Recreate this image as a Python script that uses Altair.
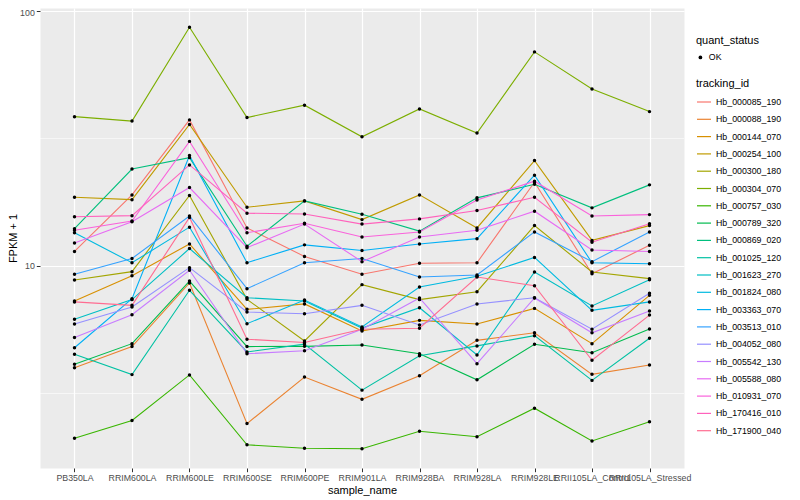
import altair as alt
import pandas as pd

samples = ["PB350LA", "RRIM600LA", "RRIM600LE", "RRIM600SE", "RRIM600PE",
           "RRIM901LA", "RRIM928BA", "RRIM928LA", "RRIM928LE",
           "RRII105LA_Control", "RRII105LA_Stressed"]

ids = ["Hb_000085_190", "Hb_000088_190", "Hb_000144_070", "Hb_000254_100",
       "Hb_000300_180", "Hb_000304_070", "Hb_000757_030", "Hb_000789_320",
       "Hb_000869_020", "Hb_001025_120", "Hb_001623_270", "Hb_001824_080",
       "Hb_003363_070", "Hb_003513_010", "Hb_004052_080", "Hb_005542_130",
       "Hb_005588_080", "Hb_010931_070", "Hb_170416_010", "Hb_171900_040"]

colors = ["#F8766D", "#EA8331", "#D89000", "#C09B00", "#A3A500", "#7CAE00",
          "#39B600", "#00BB4E", "#00BF7D", "#00C1A3", "#00BFC4", "#00BAE0",
          "#00B0F6", "#35A2FF", "#9590FF", "#C77CFF", "#E76BF3", "#FA62DB",
          "#FF62BC", "#FF6C91"]

# FPKM + 1 per tracking_id, in sample order
hb_000085_190 = [11.4, 19.0, 37.4, 14.1, 10.9, 9.28, 10.25, 10.3, 21.3, 9.33, 12.05]
hb_000088_190 = [3.99, 4.83, 8.58, 2.41, 3.67, 3.00, 3.71, 5.11, 5.47, 3.76, 4.09]
hb_000144_070 = [7.29, 9.16, 12.2, 6.76, 7.10, 5.56, 6.12, 5.92, 6.82, 4.96, 7.67]
hb_000254_100 = [18.6, 18.2, 35.9, 17.0, 18.0, 15.2, 19.0, 14.1, 25.9, 12.6, 14.4]
hb_000300_180 = [8.81, 9.50, 18.9, 7.40, 5.08, 8.45, 7.38, 7.93, 14.4, 9.47, 8.92]
hb_000304_070 = [38.5, 37.0, 86.3, 38.2, 42.7, 32.1, 41.3, 33.2, 69.1, 49.4, 40.3]
hb_000757_030 = [2.11, 2.48, 3.74, 1.99, 1.93, 1.92, 2.25, 2.14, 2.77, 2.06, 2.45]
hb_000789_320 = [4.12, 4.96, 8.73, 4.83, 4.84, 4.90, 4.53, 3.58, 4.93, 4.57, 5.66]
hb_000869_020 = [14.0, 24.0, 26.6, 11.95, 18.0, 15.95, 13.7, 18.5, 20.9, 16.9, 20.8]
hb_001025_120 = [4.51, 3.75, 8.03, 4.60, 4.94, 3.26, 4.45, 4.86, 5.33, 3.56, 5.21]
hb_001623_270 = [6.18, 7.38, 11.7, 7.51, 7.29, 5.71, 6.86, 4.48, 9.47, 6.97, 8.84]
hb_001824_080 = [13.5, 10.3, 14.2, 5.94, 7.35, 5.77, 8.27, 9.11, 10.8, 6.70, 7.23]
hb_003363_070 = [4.78, 7.44, 27.1, 10.3, 12.1, 11.5, 12.2, 12.8, 22.7, 10.3, 10.2]
hb_003513_010 = [9.28, 10.7, 15.7, 8.15, 10.3, 10.7, 9.05, 9.22, 13.6, 10.4, 13.6]
hb_004052_080 = [5.92, 6.91, 9.85, 6.60, 6.50, 7.01, 5.87, 7.10, 7.51, 5.65, 7.82]
hb_005542_130 = [5.24, 6.44, 9.62, 4.53, 4.65, 5.65, 7.49, 4.14, 7.49, 5.47, 6.66]
hb_005588_080 = [12.3, 14.9, 20.3, 11.8, 14.6, 10.4, 13.0, 13.8, 16.4, 11.55, 11.4]
hb_010931_070 = [13.8, 15.0, 30.8, 13.5, 14.7, 13.0, 13.6, 18.15, 21.5, 15.7, 15.9]
hb_170416_010 = [15.6, 15.75, 24.9, 16.1, 16.0, 14.6, 15.3, 16.5, 18.6, 12.4, 14.65]
hb_171900_040 = [7.23, 7.01, 15.5, 5.16, 5.01, 5.65, 5.70, 9.05, 8.37, 4.27, 6.42]

series = [hb_000085_190, hb_000088_190, hb_000144_070, hb_000254_100,
          hb_000300_180, hb_000304_070, hb_000757_030, hb_000789_320,
          hb_000869_020, hb_001025_120, hb_001623_270, hb_001824_080,
          hb_003363_070, hb_003513_010, hb_004052_080, hb_005542_130,
          hb_005588_080, hb_010931_070, hb_170416_010, hb_171900_040]

major_breaks = [10, 100]
minor_breaks = [3.1623, 31.623]

rows = []
for tid, vals in zip(ids, series):
    for s, v in zip(samples, vals):
        rows.append({"tracking_id": tid, "sample_name": s, "fpkm": v,
                     "quant_status": "OK"})
df = pd.DataFrame(rows)
minor_df = pd.DataFrame({"fpkm": minor_breaks})

yscale = alt.Scale(type="log", domain=[1.614, 102.7], nice=False, zero=False)
xscale = alt.Scale(type="point", padding=0.6)

x_enc = alt.X("sample_name:N", sort=samples, scale=xscale,
              axis=alt.Axis(title="sample_name", grid=True, gridColor="white",
                            gridWidth=1.2, labelAngle=0, labelOverlap=False,
                            domain=False, tickColor="#333333", tickSize=3.7,
                            tickWidth=1, labelPadding=2, labelColor="#4D4D4D",
                            labelFontSize=8.8, titleFontSize=11,
                            titleFontWeight="normal", titleColor="black",
                            titlePadding=2))
y_axis = alt.Axis(title="FPKM + 1", values=major_breaks, format="d", grid=True,
                  gridColor="white", gridWidth=1.2, domain=False,
                  tickColor="#333333", tickSize=3.7, tickWidth=1,
                  labelPadding=2, labelColor="#4D4D4D", labelFontSize=8.8,
                  labelOffset={"condition": {"test": "datum.value >= 100",
                                             "value": 2}, "value": 0},
                  titleFontSize=11, titleFontWeight="normal",
                  titleColor="black", titlePadding=1)

minor = alt.Chart(minor_df).mark_rule(color="white", strokeWidth=0.6).encode(
    y=alt.Y("fpkm:Q", scale=yscale, axis=y_axis)
)

lines = alt.Chart(df).mark_line(strokeWidth=1.1).encode(
    x=x_enc,
    y=alt.Y("fpkm:Q", scale=yscale, axis=y_axis),
    color=alt.Color("tracking_id:N",
                    scale=alt.Scale(domain=ids, range=colors),
                    legend=alt.Legend(orient="none", legendX=656, legendY=70,
                                      title="tracking_id",
                                      symbolType="stroke", symbolSize=196,
                                      symbolStrokeWidth=1.2, rowPadding=4.3,
                                      labelFontSize=8.8, titleFontSize=11,
                                      titleFontWeight="normal",
                                      titlePadding=5, labelOffset=4)),
    detail="tracking_id:N",
)

points = alt.Chart(df).mark_point(filled=True, color="black", size=12,
                                  opacity=1).encode(
    x=x_enc,
    y=alt.Y("fpkm:Q", scale=yscale, axis=y_axis),
    shape=alt.Shape("quant_status:N", scale=alt.Scale(range=["circle"]),
                    legend=alt.Legend(orient="none", legendX=656, legendY=27,
                                      title="quant_status",
                                      symbolFillColor="black",
                                      symbolStrokeColor="black",
                                      symbolSize=14, labelFontSize=8.8,
                                      titleFontSize=11,
                                      titleFontWeight="normal",
                                      titlePadding=7, labelOffset=4)),
)

chart = alt.layer(minor, lines, points).properties(
    width=644, height=460, autosize="none",
    padding={"left": 32, "top": 0, "right": 108, "bottom": 32},
).configure(font="Liberation Sans").configure_view(
    fill="#EBEBEB", stroke="transparent"
).configure_legend(labelColor="black", titleColor="black")

chart.save("out.html", embed_options={"renderer": "svg", "actions": False})
